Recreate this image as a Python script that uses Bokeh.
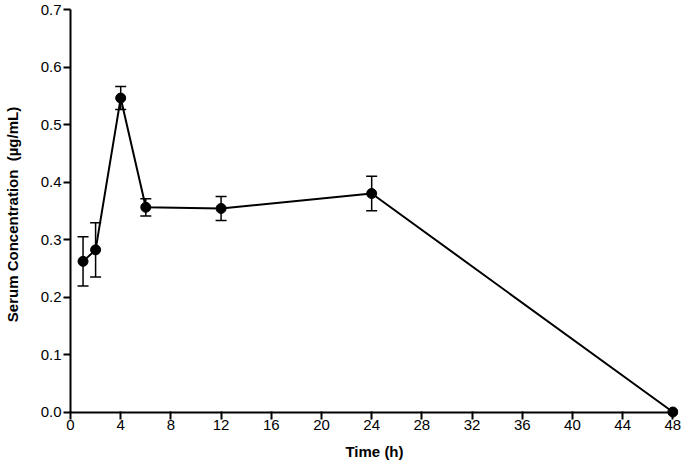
from bokeh.plotting import figure
from bokeh.models import (ColumnDataSource, Whisker, TeeHead, Range1d, FixedTicker,
                          PrintfTickFormatter, LinearAxis)
from bokeh.embed import file_html
from bokeh.resources import INLINE

# Data
time_h = [1, 2, 4, 6, 12, 24, 48]
conc = [0.262, 0.282, 0.546, 0.356, 0.354, 0.380, 0.0]
sd = [0.043, 0.047, 0.020, 0.015, 0.021, 0.030, 0.0]

x_ticks = [0, 4, 8, 12, 16, 20, 24, 28, 32, 36, 40, 44, 48]
y_ticks = [0.0, 0.1, 0.2, 0.3, 0.4, 0.5, 0.6, 0.7]

FONT = "Liberation Sans"

p = figure(width=684, height=469, output_backend="svg", toolbar_location=None,
           x_range=Range1d(0, 48.45), y_range=Range1d(-0.013, 0.7),
           min_border_left=68, min_border_right=6, min_border_top=9, min_border_bottom=50)
p.outline_line_color = None
p.xgrid.visible = False
p.ygrid.visible = False
p.background_fill_color = "white"

src = ColumnDataSource(dict(x=time_h, y=conc))
wx = [t for t, s in zip(time_h, sd) if s > 0]
wup = [c + s for c, s in zip(conc, sd) if s > 0]
wlo = [c - s for c, s in zip(conc, sd) if s > 0]
wsrc = ColumnDataSource(dict(x=wx, upper=wup, lower=wlo))

p.line("x", "y", source=src, line_color="black", line_width=2)
w = Whisker(base="x", upper="upper", lower="lower", source=wsrc,
            line_color="black", line_width=1.5, level="glyph",
            upper_head=TeeHead(size=11, line_color="black", line_width=1.5),
            lower_head=TeeHead(size=11, line_color="black", line_width=1.5))
p.add_layout(w)
p.scatter("x", "y", source=src, size=10, marker="circle", fill_color="black", line_color="black")

# x axis line placed at y = 0 (no ticks / labels of its own)
xa = p.xaxis[0]
xa.fixed_location = 0
xa.bounds = (0, 48)
xa.ticker = FixedTicker(ticks=[])
xa.minor_tick_line_color = None
xa.major_tick_line_color = None
xa.axis_line_width = 2
xa.axis_line_color = "black"

# x ticks (reaching up to the y = 0 line), tick labels and title
xb = LinearAxis(ticker=FixedTicker(ticks=x_ticks), axis_label="Time (h)")
xb.axis_line_color = None
xb.minor_tick_line_color = None
xb.major_tick_line_color = "black"
xb.major_tick_line_width = 2
xb.major_tick_in = 8
xb.major_tick_out = 0
xb.major_label_standoff = 0
xb.axis_label_standoff = 10
p.add_layout(xb, "below")

ya = p.yaxis[0]
ya.bounds = (0, 0.7)
ya.ticker = FixedTicker(ticks=y_ticks)
ya.formatter = PrintfTickFormatter(format="%.1f")
ya.minor_tick_line_color = None
ya.axis_label = "Serum Concentration \u00a0(µg/mL)"
ya.axis_line_width = 2
ya.major_tick_line_width = 2
ya.major_tick_in = 0
ya.major_tick_out = 7
ya.major_label_standoff = 2
ya.axis_label_standoff = 17

for ax in (xb, ya):
    ax.major_label_text_font = FONT
    ax.major_label_text_font_size = "15px"
    ax.major_label_text_color = "black"
    ax.axis_label_text_font = FONT
    ax.axis_label_text_font_size = "15px"
    ax.axis_label_text_font_style = "bold"
    ax.axis_label_text_color = "black"

open("out.html", "w").write(file_html(p, INLINE))
